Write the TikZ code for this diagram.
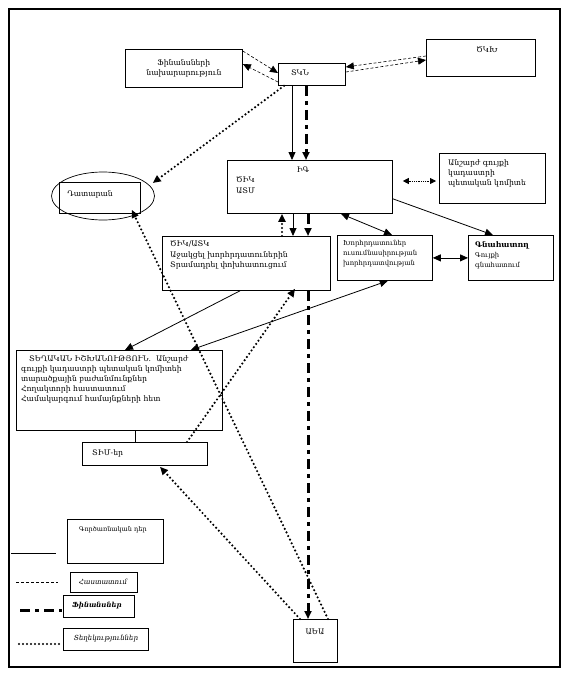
\documentclass[tikz,border=0pt]{standalone}
\usepackage{fontspec}
\setmainfont{DejaVu Serif}
\usetikzlibrary{arrows.meta,shapes.geometric,calc}
\begin{document}
\begin{tikzpicture}[x=1pt,y=-1pt,
  box/.style={draw,line width=0.8pt,anchor=north west,inner sep=0pt,font=\fontsize{7.7}{10}\selectfont},
  txt/.style={inner sep=0pt,font=\fontsize{7.7}{10.2}\selectfont},
  ltxt/.style={inner sep=0pt,font=\fontsize{7}{8}\selectfont\itshape},
  tip/.style={-{Triangle[length=8pt,width=7pt]}},
  dtip/.style={{Triangle[length=8pt,width=7pt]}-{Triangle[length=8pt,width=7pt]}},
  solidc/.style={line width=0.8pt},
  dashc/.style={line width=0.6pt,dash pattern=on 3pt off 2pt},
  fincon/.style={line width=3pt,dash pattern=on 10pt off 5pt on 4pt off 5pt},
  infocon/.style={line width=2.4pt,line cap=round,dash pattern=on 0pt off 4pt},
]
\useasboundingbox (0,0) rectangle (568,674);
\draw[line width=2.2pt] (9,9) rectangle (560,667);

% boxes
\node[box,minimum width=117pt,minimum height=38pt,align=center] (fin) at (125,49) {Ֆինանսների\\նախարարություն};
\node[box,minimum width=67pt,minimum height=22pt] (tkn) at (278,63) {};
\node[txt] (tkntxt) at (300,73) {ՏԿՆ};
\node[box,minimum width=109pt,minimum height=37pt] (ckx) at (426,39) {};
\node[txt] (ckxtxt) at (487,50) {ԾԿԽ};
\node[box,minimum width=165pt,minimum height=53pt] (ig) at (227,160) {};
\node[txt] (igt) at (303,170) {ԻԳ};
\node[txt,anchor=north west,align=left] (igt2) at (236,177) {ԾԻԿ\\ԱՏՄ};
\node[box,minimum width=106pt,minimum height=50pt] (agk) at (439,153) {};
\node[txt,anchor=north west,align=left] (agkt) at (448,159) {Անշարժ գույքի\\կադաստրի\\պետական կոմիտե};
\node[box,minimum width=81pt,minimum height=31pt] (courtr) at (59,182) {};
\node[txt] (courtt) at (90,194) {Դատարան};
\node[draw,ellipse,line width=0.7pt,minimum width=103pt,minimum height=48pt,inner sep=0pt] (courte) at (103,196) {};
\node[box,minimum width=168pt,minimum height=54pt] (cik) at (162,236) {};
\node[txt,anchor=north west,align=left] (cikt) at (170,241) {ԾԻԿ/ԱՏԿ\\Աջակցել խորհրդատուներին\\Տրամադրել փոխհատուցում};
\node[box,minimum width=95pt,minimum height=45pt] (cons) at (337,235) {};
\node[txt,anchor=north west,align=left,font=\fontsize{6.8}{10}\selectfont] (const) at (343,240) {Խորհրդատուներ\\ուսումնասիրության\\խորհրդատվության};
\node[box,minimum width=85pt,minimum height=45pt] (appr) at (468,235) {};
\node[txt,anchor=north west,align=left] (apprt) at (475,241) {\textbf{Գնահատող}\\{\fontsize{6.8}{10}\selectfont Գույքի}\\{\fontsize{6.8}{10}\selectfont գնահատում}};
\node[box,minimum width=206pt,minimum height=80pt] (loc) at (16,350) {};
\node[txt,anchor=north west,align=left] (loct) at (21,355) {\hspace*{8pt}ՏԵՂԱԿԱՆ ԻՇԽԱՆՈՒԹՅՈՒՆ.\ \ Անշարժ\\գույքի կադաստրի պետական կոմիտեի\\տարածքային բաժանմունքներ\\Հողակտորի հաստատում\\Համակարգում համայնքների հետ};
\node[box,minimum width=125pt,minimum height=23pt] (tim) at (82,442) {};
\node[txt,anchor=west] (timt) at (92,453.5) {ՏԻՄ-եր};
\node[box,minimum width=44pt,minimum height=43pt] (aea) at (293,619) {};
\node[txt] (aeat) at (315,632) {ԱԵԱ};

% legend
\node[box,minimum width=96pt,minimum height=44pt] (lg1) at (67,519) {};
\node[ltxt,font=\fontsize{6.5}{8}\selectfont] (lg1t) at (113,530) {Գործառնական դեր};
\node[box,minimum width=67pt,minimum height=20pt] (lg2) at (70,572) {};
\node[ltxt] (lg2t) at (103,582) {Հաստատում};
\node[box,minimum width=71pt,minimum height=22pt] (lg3) at (63,595) {};
\node[ltxt,font=\fontsize{7}{8}\selectfont\bfseries\itshape] (lg3t) at (97,606) {Ֆինանսներ};
\node[box,minimum width=85pt,minimum height=22pt] (lg4) at (63,628) {};
\node[ltxt] (lg4t) at (106,639) {Տեղեկություններ};
\coordinate (l1a) at (11,553); \coordinate (l1b) at (56,553);
\coordinate (l2a) at (16,582); \coordinate (l2b) at (58,582);
\coordinate (l3a) at (20,610); \coordinate (l3b) at (62,610);
\coordinate (l4a) at (19,644); \coordinate (l4b) at (60,644);
\draw[solidc] (l1a) -- (l1b);
\draw[dashc] (l2a) -- (l2b);
\draw[fincon] (l3a) -- (l3b);
\draw[infocon] (l4a) -- (l4b);

% connectors
\draw[dashc,tip] ([yshift=-2pt]fin.north east) -- ([yshift=-10pt]tkn.north west);
\draw[dashc,tip] ([yshift=-19pt]tkn.north west) -- ([yshift=-15pt]fin.north east);
\draw[dashc,tip] ([yshift=-9pt]tkn.north east) -- ([yshift=-21pt]ckx.north west);
\draw[dashc,tip] ([yshift=-17pt]ckx.north west) -- ([yshift=-4pt]tkn.north east);
\draw[solidc,tip] ([xshift=14pt]tkn.south west) -- ([xshift=65pt]ig.north west);
\draw[fincon,tip] ([xshift=28pt]tkn.south west) -- ([xshift=79pt]ig.north west);
\draw[infocon,tip] ([xshift=6pt]tkn.south west) -- ([xshift=12pt,yshift=-1pt]courtr.north east);
\draw[line width=0.8pt,densely dotted,{Triangle[length=6pt,width=6pt]}-{Triangle[length=6pt,width=6pt]}] ([xshift=10pt,yshift=-21pt]ig.north east) -- ([xshift=-3pt,yshift=-28pt]agk.north west);
\draw[solidc,tip] ([yshift=15pt]ig.south east) -- ([xshift=25pt]appr.north west);
\draw[solidc,dtip] ([xshift=114pt]ig.south west) -- ([xshift=55pt]cons.north west);
\draw[infocon,tip] ([xshift=120pt]cik.north west) -- ([xshift=55pt]ig.south west);
\draw[solidc,tip] ([xshift=66pt]ig.south west) -- ([xshift=131pt]cik.north west);
\draw[fincon,tip] ([xshift=81pt]ig.south west) -- ([xshift=146pt]cik.north west);
\draw[solidc,dtip] ([xshift=-45pt]cons.south east) -- ([xshift=-32pt]loc.north east);
\draw[solidc,dtip] (cons.east) -- (appr.west);
\draw[solidc,tip] ([xshift=78pt]cik.south west) -- ([xshift=109pt]loc.north west);
\draw[fincon,tip] ([xshift=146pt]cik.south west) -- ([xshift=15pt]aea.north west);
\draw[infocon,tip] ([xshift=35pt]aea.north west) -- ([xshift=-9pt,yshift=4pt]courtr.south east);
\draw[infocon,tip] ([xshift=7pt]aea.north west) -- ([xshift=78pt,yshift=-1pt]tim.south west);
\draw[infocon,tip] ([xshift=105pt]tim.north west) -- ([xshift=133pt,yshift=2pt]cik.south west);
\draw[solidc] ([xshift=119pt]loc.south west) -- ([xshift=53pt]tim.north west);
\end{tikzpicture}
\end{document}
